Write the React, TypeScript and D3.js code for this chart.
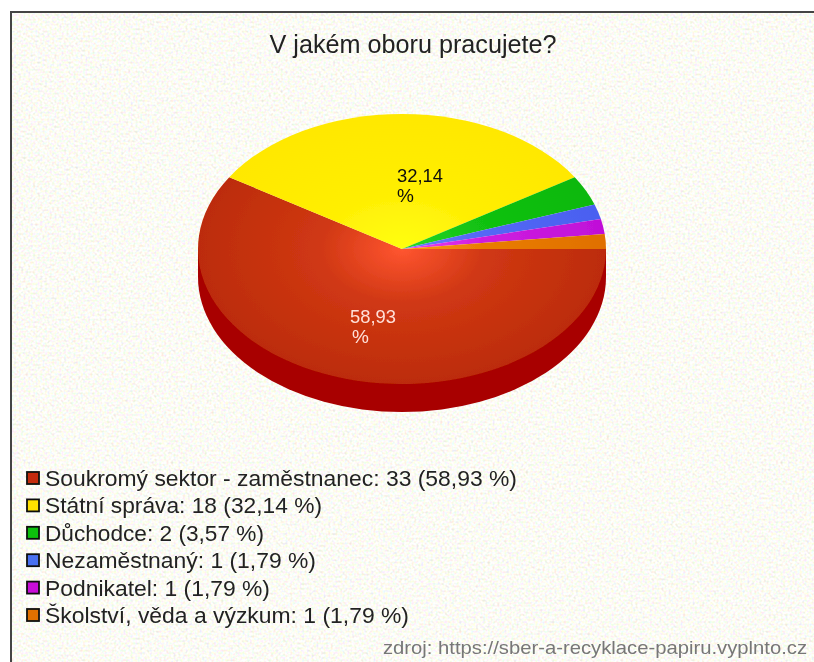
import React from "react";
import * as d3 from "d3";

const categories = ["Soukromý sektor - zaměstnanec", "Státní správa", "Důchodce", "Nezaměstnaný", "Podnikatel", "Školství, věda a výzkum"];
const counts = [33, 18, 2, 1, 1, 1];
const percents = ["58,93", "32,14", "3,57", "1,79", "1,79", "1,79"];
const innerColors = ["#ff5530", "#ffff10", "#28d828", "#6a7cff", "#f040f0", "#ff9a10"];
const outerColors = ["#bc2c08", "#ffe800", "#08b808", "#4a60f0", "#c010d8", "#e07000"];
const swatchColors = ["#c42c08", "#ffe000", "#08c008", "#4a70f0", "#c810d8", "#e07000"];
const legendWidths = [472, 277, 219, 271, 225, 364];

const W = 814, H = 662;
const cx = 402, cy = 249, rx = 204, ry = 135, depth = 28;
const FONT = "'Liberation Sans', Arial, sans-serif";

export default function App() {
  const pie = d3.pie<number>().sort(null).startAngle(Math.PI / 2).endAngle(Math.PI / 2 + 2 * Math.PI);
  const arcs = pie(counts);
  const arc = d3.arc<any>().innerRadius(0).outerRadius(rx);
  const sideArc = arc({ startAngle: Math.PI / 2, endAngle: (3 * Math.PI) / 2 }) as string;
  const legendY = d3.scalePoint<number>().domain(d3.range(categories.length)).range([478, 615]);

  return (
    <svg width={W} height={H} style={{ position: "absolute", left: 0, top: 0, display: "block" }}>
      <defs>
        <filter id="noise" x="0" y="0" width="100%" height="100%" colorInterpolationFilters="sRGB">
          <feTurbulence type="fractalNoise" baseFrequency="0.42" numOctaves={1} seed={4} />
          <feColorMatrix
            type="matrix"
            values="0.28 0 0 0 0.85  0 0.28 0 0 0.85  0 0 0.34 0 0.79  0 0 0 0 1"
          />
        </filter>
        {arcs.map((_, i) => (
          <radialGradient key={i} id={`g${i}`} gradientUnits="userSpaceOnUse" cx="0" cy="0" r={rx}>
            <stop offset="0" stopColor={innerColors[i]} />
            <stop offset="0.4" stopColor={d3.interpolateRgb(innerColors[i], outerColors[i])(0.7)} />
            <stop offset="1" stopColor={outerColors[i]} />
          </radialGradient>
        ))}
        <filter id="soft" x="-5%" y="-20%" width="110%" height="140%">
          <feGaussianBlur stdDeviation="0.5" />
        </filter>
      </defs>
      <rect width={W} height={H} fill="#fff" />
      <rect x={11} y={12} width={W} height={H} filter="url(#noise)" />
      <path d={`M11,${H}V12H${W}`} fill="none" stroke="#444" strokeWidth={2} />

      <g filter="url(#soft)">
        <g transform={`translate(${cx},${cy + depth}) scale(1,${ry / rx})`}>
          <path d={sideArc} fill="#a80000" />
        </g>
        <rect x={cx - rx} y={cy} width={2 * rx} height={depth} fill="#a80000" />
        <g transform={`translate(${cx},${cy}) scale(1,${ry / rx})`}>
          {arcs.map((a, i) => (
            <path key={i} d={arc(a) as string} fill={`url(#g${i})`} />
          ))}
        </g>
      </g>

      <g fontFamily={FONT} filter="url(#soft)">
        <text x={413} y={53} fontSize={25} textAnchor="middle" fill="#222" textLength={287} lengthAdjust="spacingAndGlyphs">V jakém oboru pracujete?</text>
        <text x={397} y={182} fontSize={19} fill="#111" textLength={46} lengthAdjust="spacingAndGlyphs">{percents[1]}</text>
        <text x={397} y={202} fontSize={19} fill="#111">%</text>
        <text x={350} y={323} fontSize={19} fill="#ffe0d8" textLength={46} lengthAdjust="spacingAndGlyphs">{percents[0]}</text>
        <text x={352} y={343} fontSize={19} fill="#ffe0d8">%</text>
        {categories.map((c, i) => {
          const y = legendY(i)!;
          return (
            <g key={c}>
              <rect x={27} y={y - 6} width={12} height={12} fill={swatchColors[i]} stroke="#111" strokeWidth={1.8} />
              <text x={45} y={y + 8} fontSize={22} fill="#222" textLength={legendWidths[i]} lengthAdjust="spacingAndGlyphs">
                {`${c}: ${counts[i]} (${percents[i]} %)`}
              </text>
            </g>
          );
        })}
        <text x={807} y={654} fontSize={18.5} textAnchor="end" fill="#777" textLength={424} lengthAdjust="spacingAndGlyphs">zdroj: https://sber-a-recyklace-papiru.vyplnto.cz</text>
      </g>
    </svg>
  );
}
